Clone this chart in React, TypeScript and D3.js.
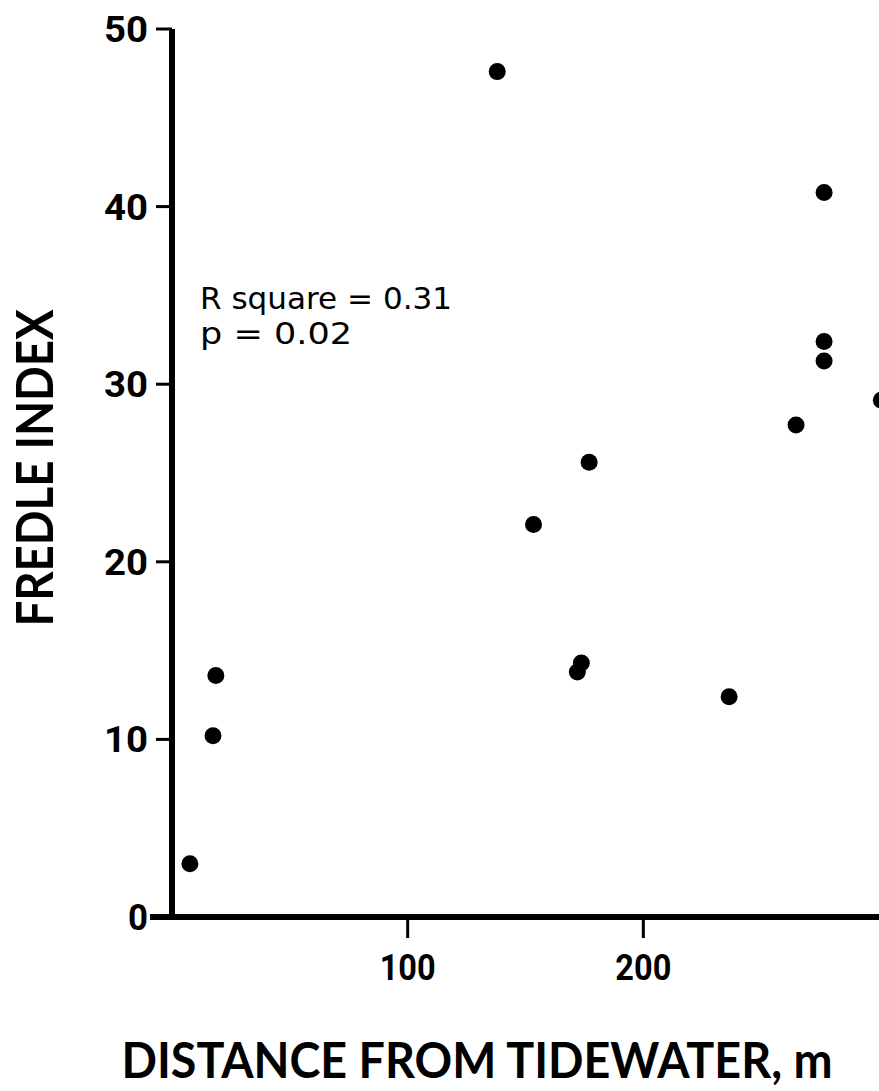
import React from "react";
import { scaleLinear } from "d3";

// distance from tidewater (m) and Fredle index
const distance = [7.6, 17.4, 18.6, 138, 153.4, 172, 173.7, 177, 236.4, 264.8, 276.7, 276.7, 276.7, 301];
const fredle = [3.0, 10.2, 13.6, 47.6, 22.1, 13.8, 14.3, 25.6, 12.4, 27.7, 40.8, 32.4, 31.3, 29.1];

const yTicks = [0, 10, 20, 30, 40, 50];
const xTicks = [100, 200];
const statLines = ["R square = 0.31", "p = 0.02"];

function App() {
  const width = 879,
    height = 1091,
    x = scaleLinear().domain([0, 300]).range([172, 879]),
    y = scaleLinear().domain([0, 50]).range([917, 29]),
    ink = "#000",
    tickFont = "Roboto, 'DejaVu Sans', sans-serif",
    titleFont = "Lato, 'DejaVu Sans', sans-serif";

  return (
    <svg
      width={width}
      height={height}
      style={{ position: "absolute", left: 0, top: 0, background: "#fff" }}
    >
      {/* axes */}
      <line x1={x(0)} x2={x(0)} y1={y(50)} y2={y(0)} stroke={ink} strokeWidth={6} />
      <line x1={150} x2={width} y1={y(0)} y2={y(0)} stroke={ink} strokeWidth={6} />

      {yTicks.map((t) => (
        <g key={t} transform={`translate(0,${y(t)})`}>
          {t > 0 && <line x1={156} x2={x(0)} stroke={ink} strokeWidth={3} />}
          <text
            x={148}
            dy=".36em"
            textAnchor="end"
            fontFamily={tickFont}
            fontWeight="bold"
            fontSize={36}
            textLength={t === 0 ? 20 : 44}
            lengthAdjust="spacingAndGlyphs"
            fill={ink}
          >
            {t}
          </text>
        </g>
      ))}

      {xTicks.map((t) => (
        <g key={t} transform={`translate(${x(t)},0)`}>
          <line y1={y(0)} y2={y(0) + 21} stroke={ink} strokeWidth={3} />
          <text
            y={980}
            textAnchor="middle"
            fontFamily={tickFont}
            fontWeight="bold"
            fontSize={37}
            textLength={56}
            lengthAdjust="spacingAndGlyphs"
            fill={ink}
          >
            {t}
          </text>
        </g>
      ))}

      {/* points */}
      {distance.map((d, i) => (
        <circle key={i} cx={x(d)} cy={y(fredle[i])} r={8.5} fill={ink} />
      ))}

      {/* regression stats */}
      {statLines.map((s, i) => (
        <text
          key={s}
          x={200}
          y={309 + i * 35}
          fontFamily="'DejaVu Sans', sans-serif"
          fontSize={31}
          textLength={i === 0 ? 252 : 152}
          lengthAdjust="spacingAndGlyphs"
          fill={ink}
        >
          {s}
        </text>
      ))}

      {/* axis titles */}
      <text
        x={477}
        y={1078}
        textAnchor="middle"
        fontFamily={titleFont}
        fontWeight="bold"
        fontSize={49}
        textLength={711}
        lengthAdjust="spacingAndGlyphs"
        fill={ink}
      >
        DISTANCE FROM TIDEWATER, m
      </text>
      <text
        transform={`translate(53,468) rotate(-90)`}
        textAnchor="middle"
        fontFamily={titleFont}
        fontWeight="bold"
        fontSize={52}
        textLength={317}
        lengthAdjust="spacingAndGlyphs"
        fill={ink}
      >
        FREDLE INDEX
      </text>
    </svg>
  );
}

export default App;
